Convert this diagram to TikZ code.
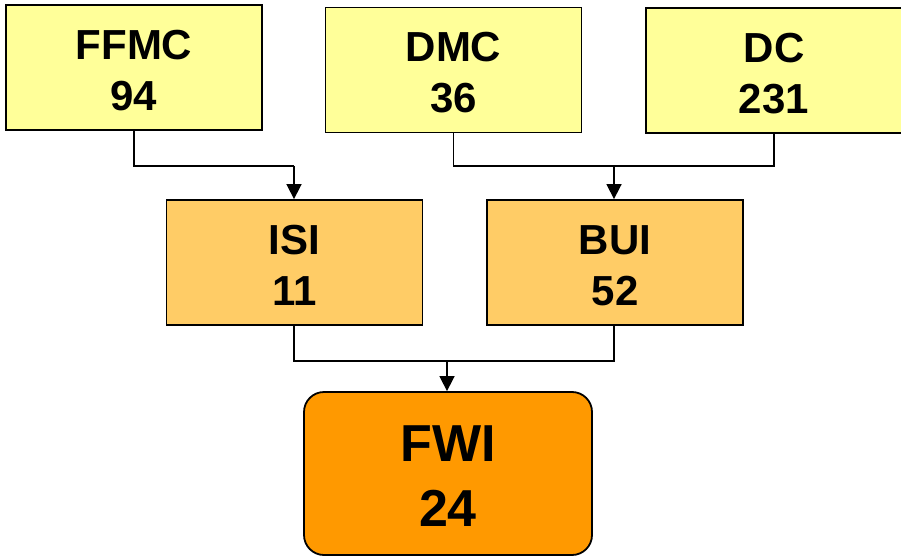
\documentclass[tikz,border=0pt]{standalone}
\usepackage{fontspec}
\setmainfont{Liberation Sans}
\usetikzlibrary{arrows.meta}
\definecolor{lyellow}{HTML}{FFFF99}
\definecolor{lorange}{HTML}{FFCC66}
\definecolor{dorange}{HTML}{FF9900}
\begin{document}
\begin{tikzpicture}[x=1pt,y=-1pt,
  box/.style={draw=black,line width=1.8pt,inner sep=0pt,minimum width=256pt,minimum height=125pt},
  top/.style={box,fill=lyellow},
  mid/.style={box,fill=lorange},
  fwibox/.style={box,fill=dorange,rounded corners=20pt,minimum width=288pt,minimum height=163pt},
  txt/.style={align=center,inner sep=0pt,font=\fontsize{42}{51}\selectfont\bfseries},
  bigtxt/.style={align=center,inner sep=0pt,font=\fontsize{52}{65}\selectfont\bfseries},
  conn/.style={line width=1.6pt},
  arr/.style={conn,-{Triangle[width=15pt,length=15pt]}}]
\useasboundingbox (0,0) rectangle (901,556);
\node[top] (ffmc) at (134,67.5) {};
\node[top] (dmc) at (453.5,70) {};
\node[top] (dc) at (774,70.5) {};
\node[mid] (isi) at (294.5,262.5) {};
\node[mid] (bui) at (615,262.5) {};
\node[fwibox] (fwi) at (448,473.5) {};
\node[txt] (ffmct) at ([yshift=-3pt]ffmc.center) {FFMC\\94};
\node[txt] (dmct) at ([yshift=-3pt]dmc.center) {DMC\\36};
\node[txt] (dct) at ([yshift=-3pt]dc.center) {DC\\231};
\node[txt] (isit) at ([yshift=-3pt]isi.center) {ISI\\11};
\node[txt] (buit) at ([yshift=-3pt]bui.center) {BUI\\52};
\node[bigtxt] (fwit) at ([yshift=-3pt]fwi.center) {FWI\\24};
\coordinate (j1) at (294,166);
\coordinate (j2) at (614,166);
\coordinate (j3) at (447,361);
\coordinate (isib) at (294,325);
\coordinate (buib) at (614,325);
\draw[conn] (ffmc.south) |- (j1);
\draw[arr] (j1) -- (isi.north -| j1);
\draw[conn] (dmc.south) |- (dc.south |- j2) -- (dc.south);
\draw[arr] (j2) -- (bui.north -| j2);
\draw[conn] (isib) |- (buib |- j3) -- (buib);
\draw[arr] (j3) -- (fwi.north -| j3);
\end{tikzpicture}
\end{document}
